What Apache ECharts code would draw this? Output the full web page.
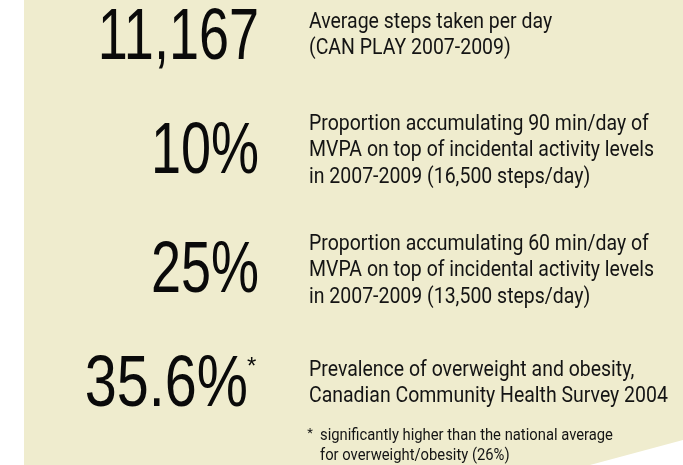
<!DOCTYPE html>
<html>
<head>
<meta charset="utf-8">
<script src="https://cdn.jsdelivr.net/npm/echarts@6/dist/echarts.min.js"></script>
<style>
  html, body { margin: 0; padding: 0; background: #fff; }
  #main { width: 683px; height: 465px; }
</style>
</head>
<body>
<div id="main"></div>
<script>
// headline figures, one per block
const stats = ['11,167', '10%', '25%', '35.6%'];
const statMarks = ['', '', '', '*'];
// description lines next to each figure
const descLines = [
  ['Average steps taken per day', '(CAN PLAY 2007-2009)'],
  ['Proportion accumulating 90 min/day of', 'MVPA on top of incidental activity levels', 'in 2007-2009 (16,500 steps/day)'],
  ['Proportion accumulating 60 min/day of', 'MVPA on top of incidental activity levels', 'in 2007-2009 (13,500 steps/day)'],
  ['Prevalence of overweight and obesity,', 'Canadian Community Health Survey 2004']
];
const footnote = ['significantly higher than the national average', 'for overweight/obesity (26%)'];

// layout
const statRight = [259, 259, 259, 248];
const statMid = [39, 153, 272, 386];
const descBase = [29, 131, 251, 377];
const pitch = 26.5;

const chart = echarts.init(document.getElementById('main'));

const els = [];
els.push({
  type: 'polygon',
  shape: { points: [[24, 0], [683, 0], [683, 440], [590, 465], [24, 465]] },
  style: { fill: '#efecce' },
  silent: true
});

stats.forEach(function (s, i) {
  els.push({
    type: 'text', x: statRight[i], y: statMid[i], scaleX: i === 3 ? 0.8 : 0.75,
    style: { text: s, font: '72px "Liberation Sans"', fill: '#0a0a0a', align: 'right', verticalAlign: 'middle' }
  });
  if (statMarks[i]) {
    els.push({
      type: 'text', x: statRight[i] - 1, y: 367,
      style: { text: statMarks[i], font: '24px "Liberation Sans"', fill: '#0a0a0a', align: 'left', verticalAlign: 'middle' }
    });
  }
});

descLines.forEach(function (lines, i) {
  lines.forEach(function (t, j) {
    els.push({
      type: 'text', x: 309, y: descBase[i] + j * pitch - 7, scaleX: 0.885,
      style: { text: t, font: '22px Roboto', fill: '#141414', align: 'left', verticalAlign: 'middle' }
    });
  });
});

els.push({
  type: 'text', x: 310, y: 434,
  style: { text: '*', font: '13px Roboto', fill: '#141414', align: 'center', verticalAlign: 'middle' }
});
footnote.forEach(function (t, j) {
  els.push({
    type: 'text', x: 320, y: 442 + j * 20 - 6, scaleX: 0.87,
    style: { text: t, font: '17px Roboto', fill: '#141414', align: 'left', verticalAlign: 'middle' }
  });
});

chart.setOption({
  animation: false,
  graphic: { elements: els }
});
</script>
</body>
</html>
